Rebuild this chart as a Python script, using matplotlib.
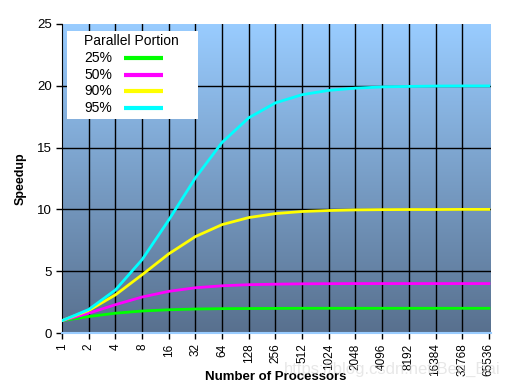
import numpy as np
import matplotlib.pyplot as plt
from matplotlib.patches import Rectangle

plt.rcParams['font.family'] = ['Liberation Sans', 'DejaVu Sans']

# processors (log2 spaced categories)
procs = ["1", "2", "4", "8", "16", "32", "64", "128", "256", "512", "1024",
         "2048", "4096", "8192", "16384", "32768", "65536"]
# speedup
s25 = [1.0, 1.33, 1.6, 1.78, 1.88, 1.94, 1.97, 1.98, 1.99, 2.0, 2.0,
       2.0, 2.0, 2.0, 2.0, 2.0, 2.0]
s50 = [1.0, 1.6, 2.29, 2.91, 3.37, 3.66, 3.82, 3.91, 3.95, 3.98, 3.99,
       4.0, 4.0, 4.0, 4.0, 4.0, 4.0]
s90 = [1.0, 1.82, 3.08, 4.71, 6.4, 7.8, 8.77, 9.34, 9.66, 9.83, 9.91,
       9.96, 9.98, 9.99, 9.99, 10.0, 10.0]
s95 = [1.0, 1.9, 3.48, 5.93, 9.14, 12.55, 15.42, 17.41, 18.62, 19.28, 19.63,
       19.81, 19.91, 19.95, 19.98, 19.99, 19.99]
labels = ["25%", "50%", "90%", "95%"]
colors = ["#00FF00", "#FF00FF", "#FFFF00", "#00FFFF"]

W, H = 509, 391
x = np.arange(len(procs))

fig = plt.figure(figsize=(W/100, H/100), dpi=100)
ax = fig.add_axes([62/W, 1-333/H, (491-62)/W, (333-24)/H])

# gradient background
grad = np.linspace(0, 1, 256).reshape(-1, 1)
top = np.array([153, 204, 255]) / 255
bot = np.array([88, 112, 142]) / 255
img = top[None, None, :] * (1 - grad[:, :, None]) + bot[None, None, :] * grad[:, :, None]
ax.imshow(img, extent=[0, 16.08, 0, 25], aspect='auto', origin='upper', zorder=0)

ax.set_xlim(0, 16.08)
ax.set_ylim(0, 25)
ax.set_xticks(x)
ax.set_xticklabels(procs, rotation=90, fontsize=8.5)
ax.set_yticks([0, 5, 10, 15, 20, 25])
ax.tick_params(axis='y', labelsize=9.5, length=4, width=1, pad=3)
ax.tick_params(axis='x', length=4, width=1, pad=3.5)

for xi in x[1:-1]:
    ax.axvline(xi, color='black', lw=1, zorder=1)
for yi in [5, 10, 15, 20]:
    ax.axhline(yi, color='black', lw=1, zorder=1)

for ys, c in zip([s25, s50, s90, s95], colors):
    ax.plot(x, ys, color=c, lw=2, zorder=3)

for side in ['top', 'right']:
    ax.spines[side].set_visible(False)
ax.spines['left'].set_color('black')
ax.spines['bottom'].set_color('#99CCFF')
ax.spines['bottom'].set_linewidth(1.5)

fig.text(21/W, 1-179/H, "Speedup", fontsize=9, fontweight='bold',
         rotation=90, ha='center', va='center')
fig.text(276/W, 1-377/H, "Number of Processors", fontsize=9.5,
         fontweight='bold', ha='center', va='center')

# legend box drawn by hand
fig.patches.append(Rectangle((67/W, 1-119/H), (198-67)/W, (119-31)/H,
                             transform=fig.transFigure, facecolor='white',
                             edgecolor='none', zorder=5))
fig.text(84/W, 1-41/H, "Parallel Portion", fontsize=10, ha='left',
         va='center', zorder=6)
leg_y = [58, 75, 91, 108]
for lab, c, yy in zip(labels, colors, leg_y):
    fig.text(84/W, 1-yy/H, lab, fontsize=10, ha='left', va='center', zorder=6)
    fig.lines.append(plt.Line2D([124/W, 163/W], [1-(yy-0.5)/H, 1-(yy-0.5)/H],
                                transform=fig.transFigure, color=c, lw=3,
                                solid_capstyle='butt', zorder=6))

# faint watermark
fig.text(392/W, 1-369/H, "https://blog.csdn.net/Ben_Bai", fontsize=12,
         color='#d8d8d8', alpha=0.6, ha='center', va='center')

fig.savefig("out.png", dpi=100)
